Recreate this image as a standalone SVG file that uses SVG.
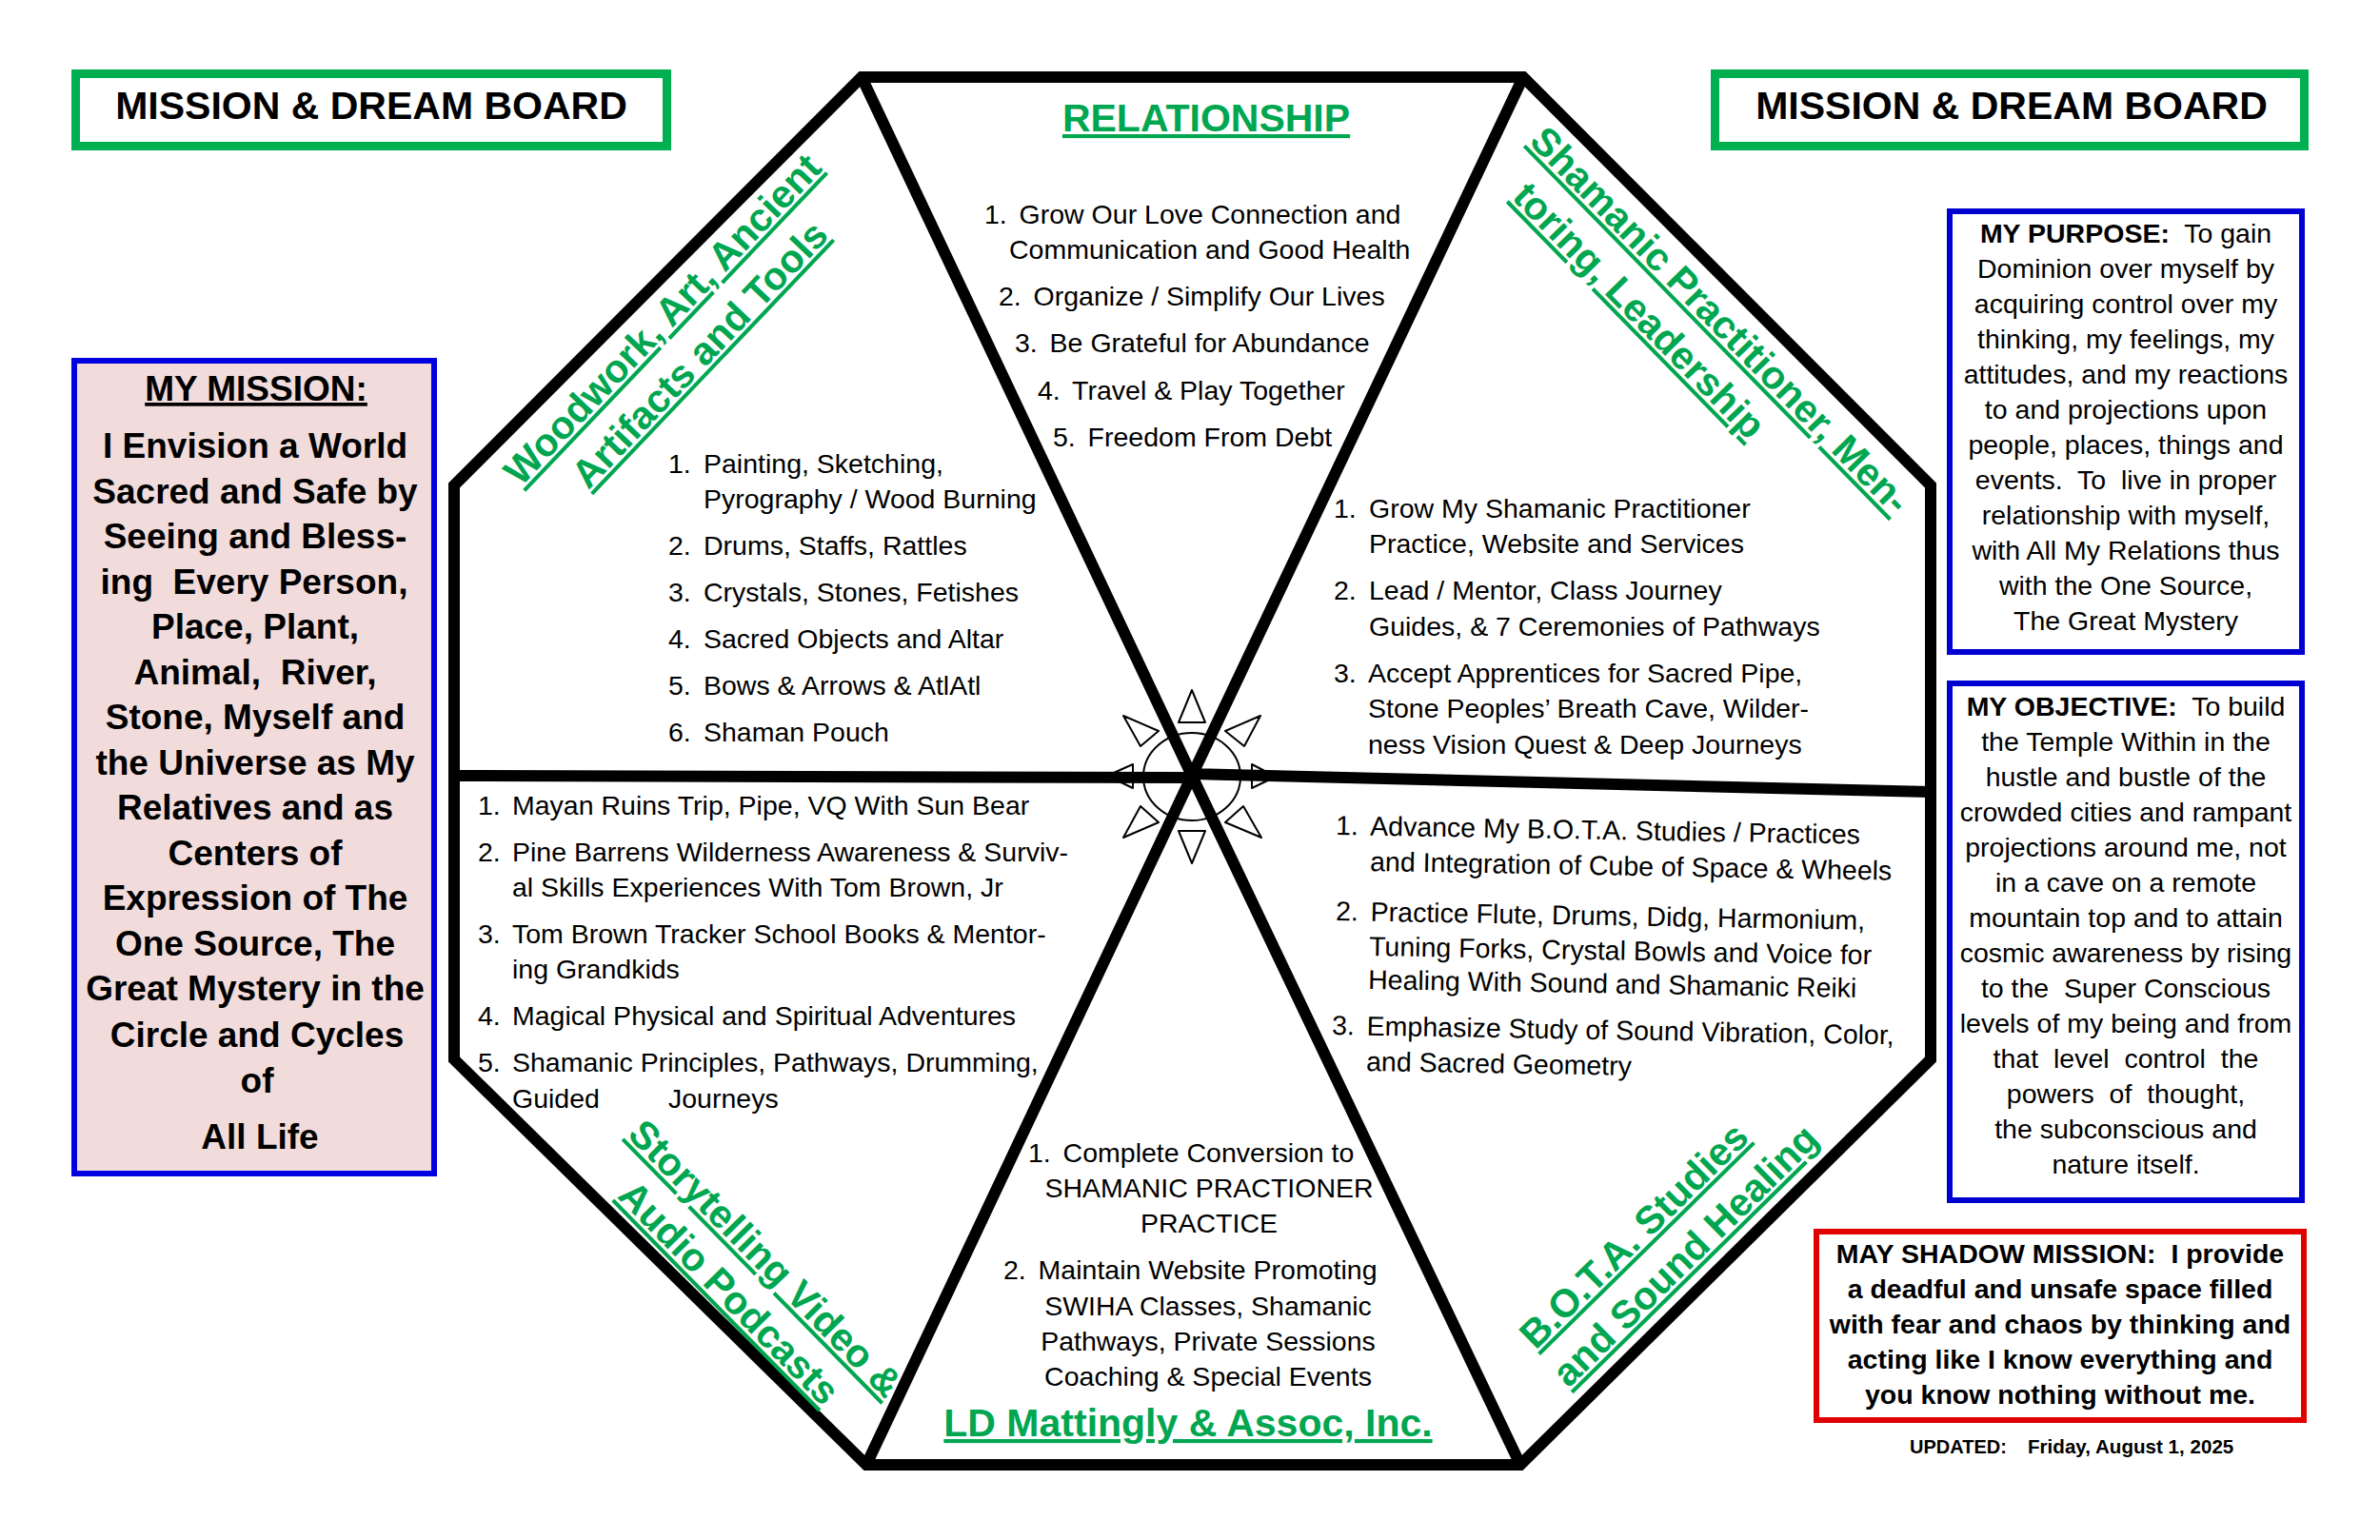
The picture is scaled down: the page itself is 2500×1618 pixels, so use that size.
<svg xmlns="http://www.w3.org/2000/svg" width="2500" height="1618" viewBox="0 0 2500 1618">
<style>
text{font-family:"Liberation Sans",Arial,sans-serif;fill:#000;white-space:pre}
.l{font-size:28.5px}
.c{font-size:28.5px;text-anchor:middle}
.b{font-size:28.5px;text-anchor:middle;font-weight:bold}
.m{font-size:37px;text-anchor:middle;font-weight:bold}
.t{font-size:41px;text-anchor:middle;font-weight:bold}
.g{fill:#00A650;font-weight:bold;text-anchor:middle;text-decoration:underline;text-decoration-skip-ink:none;text-underline-offset:6px;text-decoration-thickness:3px}
.s{fill:none;stroke:#000;stroke-width:12;stroke-linejoin:miter}
.sun{fill:none;stroke:#000;stroke-width:2}
</style>
<rect width="2500" height="1618" fill="#fff"/>
<g id="sun" class="sun">
<ellipse cx="1252" cy="816" rx="51" ry="46"/>
<path d="M1252 725L1238 759H1266ZM1180 752L1217 768L1198 784ZM1324 752L1287 768L1307 784ZM1163 815L1190 803V828ZM1315 803V828L1340 816ZM1198 847L1217 864L1180 880ZM1306 847L1287 864L1325 880ZM1238 873H1266L1252 907Z" stroke-linejoin="round"/>
</g>
<g id="connectors">
<path class="s" d="M905 81H1600L2028 510V1113L1597 1539H910L477 1113V510Z"/>
<path class="s" d="M905 81L1252 815L1600 81M477 815L1252 817M1252 813L2028 832M910 1539L1252 815L1597 1539"/>
</g>
<g id="title-left"><rect x="79.500" y="77.500" width="621" height="76" fill="#fff" stroke="#00B050" stroke-width="9"/><text class="t" x="390" y="125">MISSION &amp; DREAM BOARD</text></g>
<g id="title-right"><rect x="1801.500" y="77.500" width="619" height="76" fill="#fff" stroke="#00B050" stroke-width="9"/><text class="t" x="2113" y="125">MISSION &amp; DREAM BOARD</text></g>
<g id="mission">
<rect x="78" y="379" width="378" height="854" fill="#F2DCDB" stroke="#0000E0" stroke-width="6"/>
<text class="m" x="269" y="421" text-decoration="underline">MY MISSION:</text>
<text class="m" x="268" y="481">I Envision a World</text>
<text class="m" x="268" y="529">Sacred and Safe by</text>
<text class="m" x="268" y="576">Seeing and Bless-</text>
<text class="m" x="267" y="624">ing  Every Person,</text>
<text class="m" x="268" y="671">Place, Plant,</text>
<text class="m" x="268" y="719">Animal,  River,</text>
<text class="m" x="268" y="766">Stone, Myself and</text>
<text class="m" x="268" y="814">the Universe as My</text>
<text class="m" x="268" y="861">Relatives and as</text>
<text class="m" x="268" y="909">Centers of</text>
<text class="m" x="268" y="956">Expression of The</text>
<text class="m" x="268" y="1004">One Source, The</text>
<text class="m" x="268" y="1051">Great Mystery in the</text>
<text class="m" x="270" y="1100">Circle and Cycles</text>
<text class="m" x="270" y="1148">of</text>
<text class="m" x="273" y="1207">All Life</text>
</g>
<g id="purpose">
<rect x="2048" y="222" width="370" height="463" fill="#fff" stroke="#0000D0" stroke-width="6"/>
<text class="c" x="2233" y="255"><tspan font-weight="bold">MY PURPOSE:</tspan>  To gain</text>
<text class="c" x="2233" y="292">Dominion over myself by</text>
<text class="c" x="2233" y="329">acquiring control over my</text>
<text class="c" x="2233" y="366">thinking, my feelings, my</text>
<text class="c" x="2233" y="403">attitudes, and my reactions</text>
<text class="c" x="2233" y="440">to and projections upon</text>
<text class="c" x="2233" y="477">people, places, things and</text>
<text class="c" x="2233" y="514">events.  To  live in proper</text>
<text class="c" x="2233" y="551">relationship with myself,</text>
<text class="c" x="2233" y="588">with All My Relations thus</text>
<text class="c" x="2233" y="625">with the One Source,</text>
<text class="c" x="2233" y="662">The Great Mystery</text>
</g>
<g id="objective">
<rect x="2048" y="718" width="370" height="543" fill="#fff" stroke="#0000D0" stroke-width="6"/>
<text class="c" x="2233" y="752"><tspan font-weight="bold">MY OBJECTIVE:</tspan>  To build</text>
<text class="c" x="2233" y="789">the Temple Within in the</text>
<text class="c" x="2233" y="826">hustle and bustle of the</text>
<text class="c" x="2233" y="863">crowded cities and rampant</text>
<text class="c" x="2233" y="900">projections around me, not</text>
<text class="c" x="2233" y="937">in a cave on a remote</text>
<text class="c" x="2233" y="974">mountain top and to attain</text>
<text class="c" x="2233" y="1011">cosmic awareness by rising</text>
<text class="c" x="2233" y="1048">to the  Super Conscious</text>
<text class="c" x="2233" y="1085">levels of my being and from</text>
<text class="c" x="2233" y="1122">that  level  control  the</text>
<text class="c" x="2233" y="1159">powers  of  thought,</text>
<text class="c" x="2233" y="1196">the subconscious and</text>
<text class="c" x="2233" y="1233">nature itself.</text>
</g>
<g id="shadow">
<rect x="1908" y="1294" width="512" height="198" fill="#fff" stroke="#E00000" stroke-width="6"/>
<text class="b" x="2164" y="1327">MAY SHADOW MISSION:  I provide</text>
<text class="b" x="2164" y="1364">a deadful and unsafe space filled</text>
<text class="b" x="2164" y="1401">with fear and chaos by thinking and</text>
<text class="b" x="2164" y="1438">acting like I know everything and</text>
<text class="b" x="2164" y="1475">you know nothing without me.</text>
</g>
<g id="updated"><text x="2006" y="1527" font-size="20" font-weight="bold">UPDATED:<tspan x="2130" font-size="20.6">Friday, August 1, 2025</tspan></text></g>
<g id="relationship">
<text class="g" x="1267" y="138" font-size="41">RELATIONSHIP</text>
<text class="l" x="1034" y="235">1.  <tspan dx="-3">Grow Our Love Connection and</tspan></text>
<text class="l" x="1060" y="272">Communication and Good Health</text>
<text class="l" x="1049" y="321">2.  <tspan dx="-3">Organize / Simplify Our Lives</tspan></text>
<text class="l" x="1066" y="370">3.  <tspan dx="-3">Be Grateful for Abundance</tspan></text>
<text class="l" x="1090" y="420">4.  <tspan dx="-3">Travel &amp; Play Together</tspan></text>
<text class="l" x="1106" y="469">5.  <tspan dx="-3">Freedom From Debt</tspan></text>
</g>
<g id="woodwork">
<text class="g" font-size="41" transform="translate(706,345) rotate(-46.4)">Woodwork, Art, Ancient</text>
<text class="g" font-size="41" transform="translate(745,382) rotate(-46.4)">Artifacts and Tools</text>
<text class="l" x="702" y="497">1.</text><text class="l" x="739" y="497">Painting, Sketching,</text>
<text class="l" x="739" y="534">Pyrography / Wood Burning</text>
<text class="l" x="702" y="583">2.</text><text class="l" x="739" y="583">Drums, Staffs, Rattles</text>
<text class="l" x="702" y="632">3.</text><text class="l" x="739" y="632">Crystals, Stones, Fetishes</text>
<text class="l" x="702" y="681">4.</text><text class="l" x="739" y="681">Sacred Objects and Altar</text>
<text class="l" x="702" y="730">5.</text><text class="l" x="739" y="730">Bows &amp; Arrows &amp; AtlAtl</text>
<text class="l" x="702" y="779">6.</text><text class="l" x="739" y="779">Shaman Pouch</text>
</g>
<g id="shamanic">
<text class="g" font-size="41" transform="translate(1797,346) rotate(45.6)">Shamanic Practitioner, Men-</text>
<text class="g" font-size="41" transform="translate(1712,336) rotate(45.6)">toring, Leadership</text>
<text class="l" x="1401" y="544">1.</text><text class="l" x="1438" y="544">Grow My Shamanic Practitioner</text>
<text class="l" x="1438" y="581">Practice, Website and Services</text>
<text class="l" x="1401" y="630">2.</text><text class="l" x="1438" y="630">Lead / Mentor, Class Journey</text>
<text class="l" x="1438" y="668">Guides, &amp; 7 Ceremonies of Pathways</text>
<text class="l" x="1401" y="717">3.</text><text class="l" x="1437" y="717">Accept Apprentices for Sacred Pipe,</text>
<text class="l" x="1437" y="754">Stone Peoples’ Breath Cave, Wilder-</text>
<text class="l" x="1437" y="792">ness Vision Quest &amp; Deep Journeys</text>
</g>
<g id="storytelling">
<text class="g" font-size="41" transform="translate(794,1332) rotate(45.5)">Storytelling Video &amp;</text>
<text class="g" font-size="41" transform="translate(756,1368) rotate(45.5)">Audio Podcasts</text>
<text class="l" x="502" y="856">1.</text><text class="l" x="538" y="856">Mayan Ruins Trip, Pipe, VQ With Sun Bear</text>
<text class="l" x="502" y="905">2.</text><text class="l" x="538" y="905">Pine Barrens Wilderness Awareness &amp; Surviv-</text>
<text class="l" x="538" y="942">al Skills Experiences With Tom Brown, Jr</text>
<text class="l" x="502" y="991">3.</text><text class="l" x="538" y="991">Tom Brown Tracker School Books &amp; Mentor-</text>
<text class="l" x="538" y="1028">ing Grandkids</text>
<text class="l" x="502" y="1077">4.</text><text class="l" x="538" y="1077">Magical Physical and Spiritual Adventures</text>
<text class="l" x="502" y="1126">5.</text><text class="l" x="538" y="1126">Shamanic Principles, Pathways, Drumming,</text>
<text class="l" x="538" y="1164">Guided</text><text class="l" x="702" y="1164">Journeys</text>
</g>
<g id="bota">
<text class="g" font-size="41" transform="translate(1726,1308) rotate(-44.5)">B.O.T.A. Studies</text>
<text class="g" font-size="41" transform="translate(1780,1329) rotate(-44.5)">and Sound Healing</text>
<text class="l" x="1403" y="877" transform="rotate(1 1403 877)">1.  <tspan dx="-2">Advance My B.O.T.A. Studies / Practices</tspan></text>
<text class="l" x="1439" y="915" transform="rotate(1 1439 915)">and Integration of Cube of Space &amp; Wheels</text>
<text class="l" x="1403" y="967" transform="rotate(1 1403 967)">2.  <tspan dx="-3">Practice Flute, Drums, Didg, Harmonium,</tspan></text>
<text class="l" x="1438" y="1004" transform="rotate(1 1438 1004)">Tuning Forks, Crystal Bowls and Voice for</text>
<text class="l" x="1437" y="1039" transform="rotate(1 1437 1039)">Healing With Sound and Shamanic Reiki</text>
<text class="l" x="1399" y="1087" transform="rotate(1 1399 1087)">3.  <tspan dx="-3">Emphasize Study of Sound Vibration, Color,</tspan></text>
<text class="l" x="1435" y="1125" transform="rotate(1 1435 1125)">and Sacred Geometry</text>
</g>
<g id="ld">
<text class="l" x="1080" y="1221">1.  <tspan dx="-3">Complete Conversion to</tspan></text>
<text class="c" x="1270" y="1258">SHAMANIC PRACTIONER</text>
<text class="c" x="1270" y="1295">PRACTICE</text>
<text class="l" x="1054" y="1344">2.  <tspan dx="-3">Maintain Website Promoting</tspan></text>
<text class="c" x="1269" y="1382">SWIHA Classes, Shamanic</text>
<text class="c" x="1269" y="1419">Pathways, Private Sessions</text>
<text class="c" x="1269" y="1456">Coaching &amp; Special Events</text>
<text class="g" x="1248" y="1509" font-size="41">LD Mattingly &amp; Assoc, Inc.</text>
</g>
</svg>
